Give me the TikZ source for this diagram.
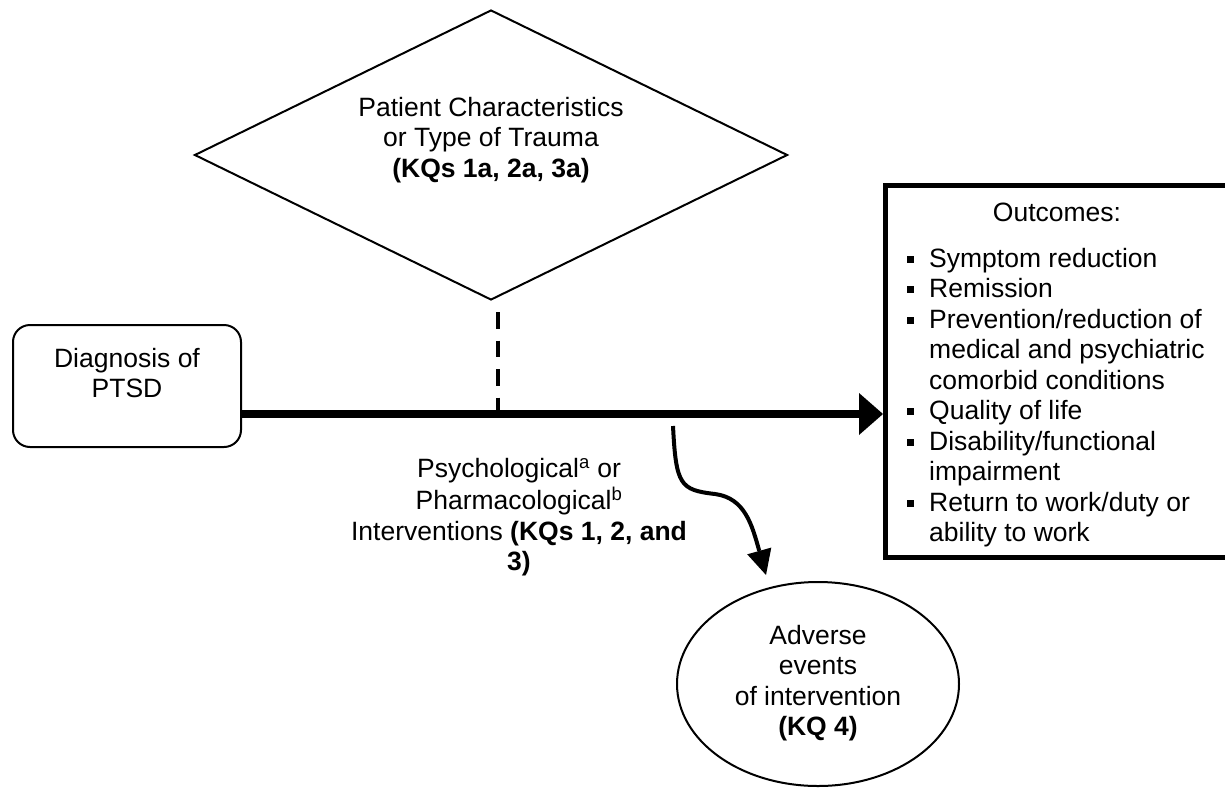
\documentclass[tikz,border=0pt]{standalone}
\usepackage{fontspec}
\setmainfont{Liberation Sans}
\usetikzlibrary{shapes.geometric,arrows.meta}
\newcommand\itm{\strut\makebox[22pt][l]{\rule[4.5pt]{7pt}{7pt}}}
\newcommand\contl{\strut\hspace*{22pt}}
\begin{document}
\begin{tikzpicture}[x=1pt,y=-1pt,
  txt/.style={font=\fontsize{26.5}{30.5}\selectfont, inner sep=0pt, align=center},
  shapeline/.style={draw, line width=2pt},
  mainflow/.style={line width=8pt, -{Triangle[length=24pt,width=42pt,line width=0pt]}},
  sideflow/.style={line width=4pt, -{Triangle[length=25pt,width=25pt,line width=0pt]}},
  modline/.style={line width=4pt, dash pattern=on 16.5pt off 12pt}]

\useasboundingbox (0,0) rectangle (1225,787);

% Moderator diamond
\node[shapeline, diamond, minimum width=593pt, minimum height=290pt, inner sep=0pt] (pc) at (491,155) {};
\node[txt, anchor=north] (pct) at (491,94.65)
  {\strut Patient Characteristics\\\strut or Type of Trauma\\\strut\textbf{(KQs 1a, 2a, 3a)}};

% Population box
\node[shapeline, rectangle, rounded corners=17pt, minimum width=228pt, minimum height=122pt, inner sep=0pt] (dx) at (127,386) {};
\node[txt, anchor=north] (dxt) at (127,345.65) {\strut Diagnosis of\\\strut PTSD};

% Outcomes box
\node[draw, line width=5pt, rectangle, minimum width=343.5pt, minimum height=372pt, inner sep=0pt] (out) at (1057.25,371) {};
\node[txt, anchor=north] (outt) at (1057,199.65) {\strut Outcomes:};
\node[txt, align=left, anchor=north west] (outl) at (907,245.65)
  {\itm Symptom reduction\\
   \itm Remission\\
   \itm Prevention/reduction of\\
   \contl medical and psychiatric\\
   \contl comorbid conditions\\
   \itm Quality of life\\
   \itm Disability/functional\\
   \contl impairment\\
   \itm Return to work/duty or\\
   \contl ability to work};

% Adverse events ellipse
\node[txt, shapeline, ellipse, minimum width=282pt, minimum height=204pt] (ae) at (818,684)
  {\strut Adverse\\\strut events\\\strut of intervention\\\strut\textbf{(KQ 4)}};

% Intervention label
\node[txt, anchor=north] (ivt) at (519,455.65)
  {\strut Psychological\textsuperscript{a} or\\\strut Pharmacological\textsuperscript{b}\\\strut Interventions \textbf{(KQs 1, 2, and}\\\strut\textbf{3)}};

% Main arrow
\coordinate (mainL) at ([yshift=-28pt]dx.east);
\draw[mainflow] (mainL) -- (mainL -| out.west);

% Dashed moderator line
\coordinate (dtop) at ([shift={(7pt,-11pt)}]pc.south);
\draw[modline, shorten >=4pt] (dtop) -- (dtop |- mainL);

% Curved arrow to adverse events
\coordinate (cs) at (673,426);
\coordinate (ce) at (766,575);
\draw[sideflow] (cs) .. controls (676,485) and (680,490) .. (715,494)
  .. controls (745,498) and (752,525) .. (ce);

\end{tikzpicture}
\end{document}
